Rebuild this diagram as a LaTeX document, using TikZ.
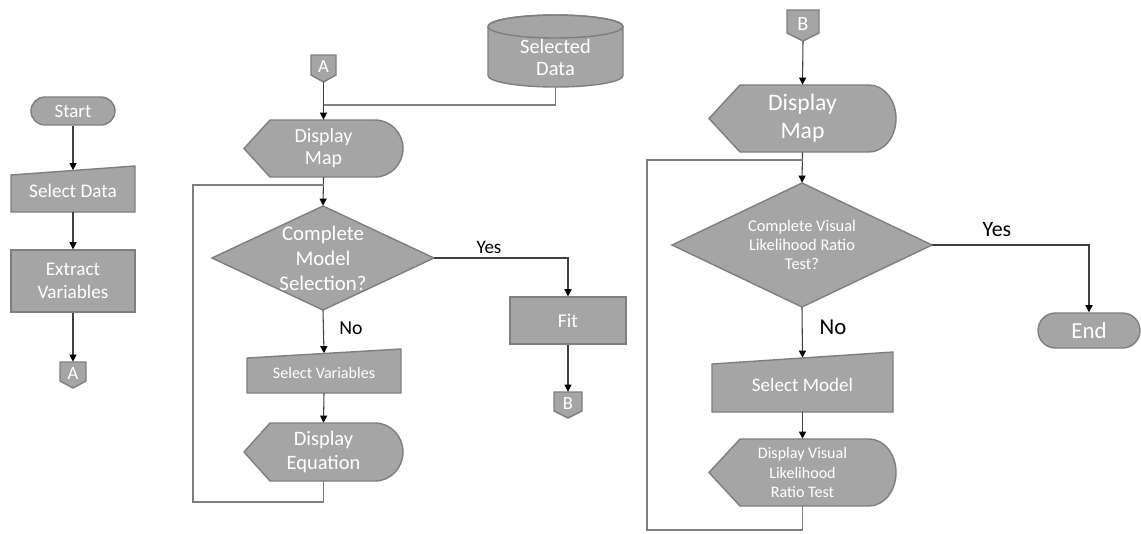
\documentclass[tikz,border=0pt]{standalone}
\usepackage{fontspec}
\setmainfont{Carlito}
\usetikzlibrary{arrows.meta,calc}

\definecolor{shfill}{HTML}{A5A5A5}
\definecolor{shline}{HTML}{7F7F7F}
\definecolor{lnk}{HTML}{404040}
\definecolor{loopc}{HTML}{7F7F7F}

% one drawing unit is one pixel of the final image
\def\pxu{0.5669pt}
\newcommand\fsz[2]{\fontsize{#1}{#2}\selectfont}

% display shape: name, x1, y1, x2, y2, point inset, arc x radius, font, text
\newcommand\dispbox[9]{%
  \filldraw[shp] (#2,{(#3+#5)/2}) -- ({#2+#6},#3) -- ({#4-#7},#3)
    arc[start angle=90,end angle=-90,x radius={#7*\pxu},y radius={(#5-#3)/2*\pxu}]
    -- ({#2+#6},#5) -- cycle;
  \node[txt,font={#8},minimum width={(#4-#2)*\pxu},minimum height={(#5-#3)*\pxu}]
    (#1) at ({(#2+#4)/2},{(#3+#5)/2}) {#9};}

% manual input shape: name, x1, x2, top-left y, top-right y, bottom y, font, text
\newcommand\manbox[8]{%
  \filldraw[shp] (#2,#4) -- (#3,#5) -- (#3,#6) -- (#2,#6) -- cycle;
  \node[txt,font={#7},minimum width={(#3-#2)*\pxu},minimum height={(#6-(#4+#5)/2)*\pxu}]
    (#1) at ({(#2+#3)/2},{((#4+#5)/2+#6)/2}) {#8};}

% off-page connector: name, x1, x2, top y, side bottom y, point y, font, text
\newcommand\offpage[8]{%
  \filldraw[shp] (#2,#4) -- (#3,#4) -- (#3,#5) -- ({(#2+#3)/2},#6) -- (#2,#5) -- cycle;
  \node[txt,font={#7},minimum width={(#3-#2)*\pxu},minimum height={(#6-#4)*\pxu}]
    (#1) at ({(#2+#3)/2},{(#4+#6)/2}) {\raisebox{2pt}{#8}};}

% decision diamond: name, x1, y1, x2, y2, font, text
\newcommand\diabox[7]{%
  \filldraw[shp] (#2,{(#3+#5)/2}) -- ({(#2+#4)/2},#3) -- (#4,{(#3+#5)/2})
    -- ({(#2+#4)/2},#5) -- cycle;
  \node[txt,font={#6},minimum width={(#4-#2)*\pxu},minimum height={(#5-#3)*\pxu}]
    (#1) at ({(#2+#4)/2},{(#3+#5)/2}) {#7};}

\begin{document}
\begin{tikzpicture}[x=0.5669pt,y=-0.5669pt,
  shp/.style={fill=shfill,draw=shline,line width=0.8pt},
  txt/.style={text=white,align=center,inner sep=0pt,shape=rectangle},
  box/.style={shp,txt},
  term/.style={shp,txt},
  lab/.style={text=black,inner sep=0pt},
  conn/.style={draw=lnk,line width=0.6pt,-{Triangle[length=4pt,width=4pt,color=black]}},
  mrg/.style={draw=loopc,line width=0.8pt}]

\fill[white] (0,0) rectangle (1141,533);
\useasboundingbox (0,0) rectangle (1141,533);

% ---------- left column ----------
\node[term,font=\fsz{10.7pt}{12.8pt},minimum width={84*\pxu},minimum height={28*\pxu},rounded corners={14*\pxu}]
  (start) at (73,111) {Start};
\manbox{seldata}{11}{135}{175}{166}{212}{\fsz{10.9pt}{13pt}}{Select Data}
\node[box,font=\fsz{10.9pt}{13.1pt},minimum width={124*\pxu},minimum height={62*\pxu}]
  (extract) at (73,281) {Extract\\Variables};
\offpage{offA1}{60}{86}{362}{381}{388}{\fsz{10.5pt}{12pt}}{A}

\draw[conn] (start.south) -- (seldata.north);
\draw[conn] (seldata.south) -- (extract.north);
\draw[conn] (extract.south) -- (offA1.north);

% ---------- middle column ----------
\offpage{offA2}{311}{336}{55}{75}{82}{\fsz{10.5pt}{12pt}}{A}

% stored data cylinder
\filldraw[shp] (488,26.5) -- (488,75.5)
  arc[start angle=180,end angle=360,x radius={67.5*\pxu},y radius={11.5*\pxu}]
  -- (623,26.5)
  arc[start angle=0,end angle=180,x radius={67.5*\pxu},y radius={11.5*\pxu}] -- cycle;
\draw[draw=shline,line width=0.8pt] (555.5,26.5) ellipse[x radius={67.5*\pxu},y radius={11.5*\pxu}];
\node[txt,font=\fsz{11.6pt}{12.5pt},minimum width={135*\pxu},minimum height={60*\pxu}]
  (seldb) at (555.5,57) {Selected\\Data};

\dispbox{disp1}{244}{120}{403}{177}{26}{28}{\fsz{11.3pt}{12.5pt}}{Display\\Map}
\diabox{dia1}{212}{206}{434}{310}{\fsz{11.8pt}{14.2pt}}{Complete\\Model\\Selection?}
\node[box,font=\fsz{11.1pt}{13pt},minimum width={116*\pxu},minimum height={47*\pxu}]
  (fit) at (568,320.5) {Fit};
\offpage{offB1}{554}{582}{392}{411}{418}{\fsz{10.5pt}{12pt}}{B}
\manbox{selvar}{247}{401}{358}{349}{393}{\fsz{9.1pt}{11pt}}{Select Variables}
\dispbox{dispeq}{244}{423}{403}{481}{26}{28}{\fsz{11.6pt}{13.8pt}}{Display\\Equation}

\coordinate (mergeA) at (offA2.south |- 0,105);
\coordinate (loopA) at (193,502);
\coordinate (joinA) at (disp1.south |- 0,185);

\draw[conn] (offA2.south) -- (disp1.north);
\draw[mrg] (seldb.south) |- (mergeA);
\draw[conn] (disp1.south) -- (dia1.north);
\draw[mrg] (dispeq.south) |- (loopA) |- (joinA);
\draw[conn] (dia1.east) -| (fit.north);
\node[lab,font=\fsz{10.8pt}{13pt}] (yes1) at (489,247) {Yes};
\draw[conn] (dia1.south) -- (selvar.north);
\node[lab,font=\fsz{11.2pt}{13pt}] (no1) at (351,328) {No};
\draw[conn] (selvar.south) -- (dispeq.north);
\draw[conn] (fit.south) -- (offB1.north);

% ---------- right column ----------
\offpage{offB2}{787}{819}{10}{33}{41}{\fsz{11.5pt}{13pt}}{B}
\dispbox{disp2}{709}{85}{896}{152}{31}{27}{\fsz{13.4pt}{15.9pt}}{Display\\Map}
\diabox{dia2}{672}{183}{932}{307}{\fsz{9.3pt}{10.8pt}}{Complete Visual\\Likelihood Ratio\\Test?}
\node[term,font=\fsz{13pt}{15pt},minimum width={102*\pxu},minimum height={35*\pxu},rounded corners={17.5*\pxu}]
  (endn) at (1089,330.5) {End};
\manbox{selmod}{712}{893}{364}{352}{412}{\fsz{10.8pt}{13pt}}{Select Model}
\dispbox{dispvis}{709}{439}{896}{506}{31}{27}{\fsz{9.1pt}{10.8pt}}{Display Visual\\Likelihood\\Ratio Test}

\coordinate (loopB) at (647,530);
\coordinate (joinB) at (disp2.south |- 0,160);

\draw[conn] (offB2.south) -- (disp2.north);
\draw[conn] (disp2.south) -- (dia2.north);
\draw[mrg] (dispvis.south) |- (loopB) |- (joinB);
\draw[conn] (dia2.east) -| (endn.north);
\node[lab,font=\fsz{12.4pt}{14pt}] (yes2) at (997,230) {Yes};
\draw[conn] (dia2.south) -- (selmod.north);
\node[lab,font=\fsz{12.9pt}{15pt}] (no2) at (833,327) {No};
\draw[conn] (selmod.south) -- (dispvis.north);

\end{tikzpicture}
\end{document}
